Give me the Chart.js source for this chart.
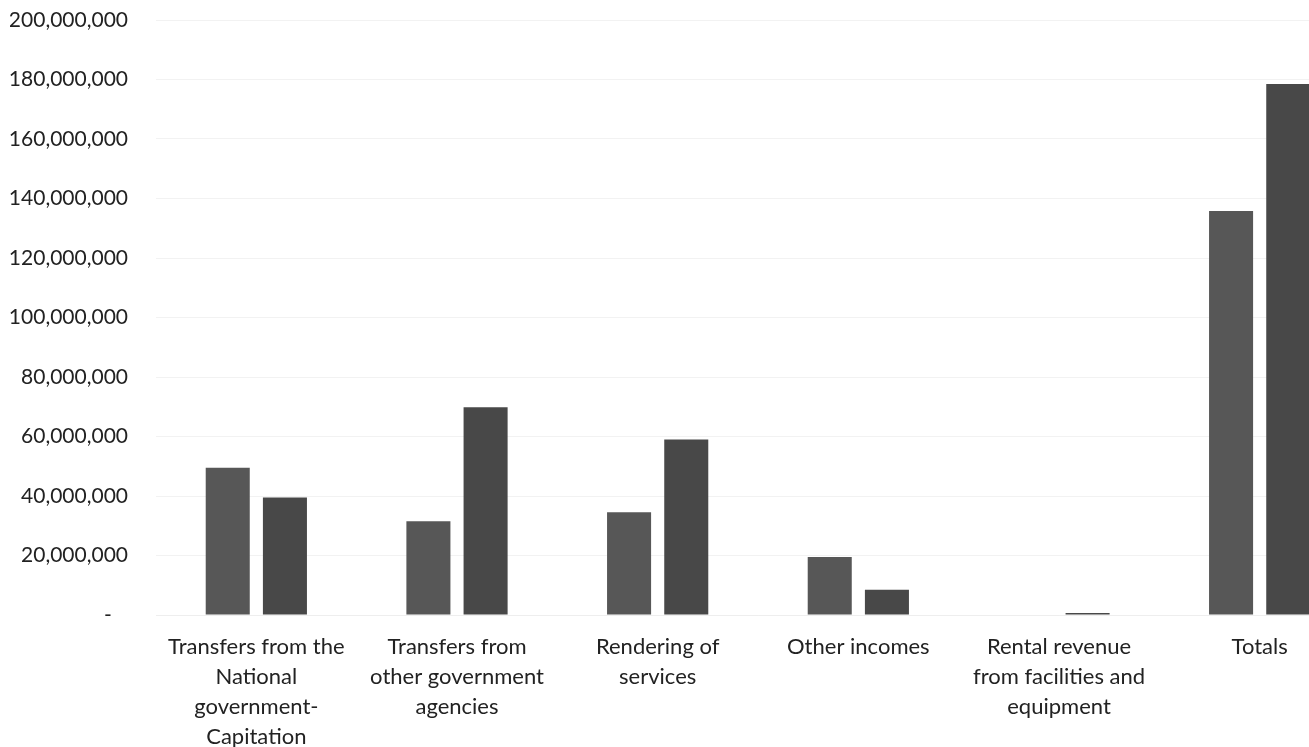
<!DOCTYPE html>
<html>
<head>
<meta charset="utf-8">
<script src="https://cdn.jsdelivr.net/npm/chart.js@4/dist/chart.umd.min.js"></script>
<style>
  html, body { margin: 0; padding: 0; background: #fff; overflow: hidden; }
  #wrap { width: 1360px; height: 747px; position: relative; }
</style>
</head>
<body>
<div id="wrap"><canvas id="revChart"></canvas></div>
<script>
// categories (multi-line labels as shown under the bars)
var categories = [
    ["Transfers from the", "National", "government-", "Capitation"],
    ["Transfers from", "other government", "agencies"],
    ["Rendering of", "services"],
    ["Other incomes"],
    ["Rental revenue", "from facilities and", "equipment"],
    ["Totals"]
];
var seriesA = [49500000, 31500000, 34500000, 19500000, 0, 135800000];
var seriesB = [39500000, 69800000, 59000000, 8500000, 700000, 178500000];
var yTicks = [0, 20000000, 40000000, 60000000, 80000000, 100000000, 120000000, 140000000, 160000000, 180000000, 200000000];

var ctx = document.getElementById("revChart");
var myChart = new Chart(ctx, {
    type: 'bar',
    data: {
        labels: categories,
        datasets: [{
            label: 'Year 1',
            data: seriesA,
            backgroundColor: '#575757',
            categoryPercentage: 0.57,
            barPercentage: 0.77
        }, {
            label: 'Year 2',
            data: seriesB,
            backgroundColor: '#484848',
            categoryPercentage: 0.57,
            barPercentage: 0.77
        }]
    },
    options: {
        responsive: true,
        maintainAspectRatio: false,
        animation: false,
        layout: { padding: { left: 10, top: 20, right: 0, bottom: 0 } },
        plugins: {
            legend: { display: false },
            tooltip: { enabled: false }
        },
        scales: {
            x: {
                afterFit: function(axis) { axis.height = 132; },
                grid: { display: false, drawTicks: false },
                border: { display: true, color: '#eeeeee' },
                ticks: {
                    color: '#222222',
                    padding: 17,
                    maxRotation: 0,
                    autoSkip: false,
                    font: { family: 'Lato', size: 22, lineHeight: 1.36 }
                }
            },
            y: {
                min: 0,
                max: 200000000,
                afterBuildTicks: function(axis) {
                    axis.ticks = yTicks.map(function(v) { return { value: v }; });
                },
                afterFit: function(axis) {
                    axis.width = 146;
                    axis.paddingTop = 0;
                    axis.paddingBottom = 0;
                },
                grid: { color: '#f2f2f2', drawTicks: false },
                border: { display: false },
                ticks: {
                    color: '#222222',
                    padding: 28,
                    font: { family: 'Lato', size: 21 },
                    callback: function(v) {
                        return v === 0 ? '-   ' : v.toLocaleString('en-US');
                    }
                }
            }
        }
    }
});
</script>
</body>
</html>
